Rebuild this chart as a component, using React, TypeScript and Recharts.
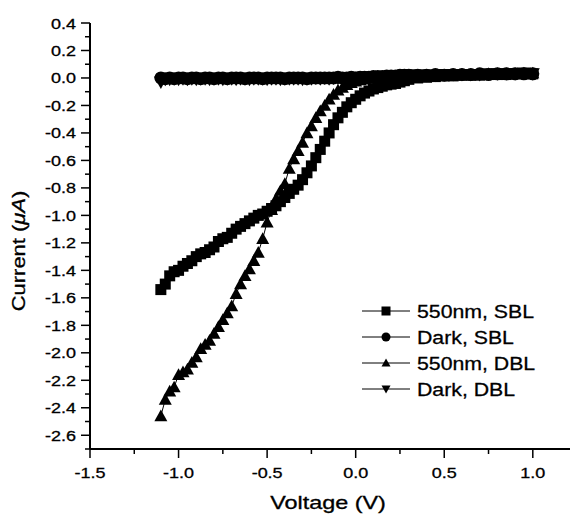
import { LineChart, Line, XAxis, YAxis } from 'recharts';

const FONT = 'Arial, "Liberation Sans", sans-serif';

// bias voltage (V)
const voltage = [
  -1.1, -1.075, -1.05, -1.025, -1.0, -0.975, -0.95, -0.925, -0.9, -0.875, -0.85, -0.825, -0.8,
  -0.775, -0.75, -0.725, -0.7, -0.675, -0.65, -0.625, -0.6, -0.575, -0.55, -0.525, -0.5,
  -0.475, -0.45, -0.425, -0.4, -0.375, -0.35, -0.325, -0.3, -0.275, -0.25, -0.225, -0.2,
  -0.175, -0.15, -0.125, -0.1, -0.075, -0.05, -0.025, 0, 0.025, 0.05, 0.075, 0.1,
  0.125, 0.15, 0.175, 0.2, 0.225, 0.25, 0.275, 0.3,
  0.35, 0.4, 0.45, 0.5, 0.55, 0.6, 0.65, 0.7, 0.75, 0.8, 0.85, 0.9, 0.95, 1.0,
];

// current (uA)
const sbl550 = [
  -1.54, -1.5, -1.44, -1.41, -1.4, -1.37, -1.35, -1.33, -1.3, -1.28, -1.27, -1.25, -1.23,
  -1.19, -1.17, -1.16, -1.13, -1.1, -1.08, -1.06, -1.04, -1.02, -1.0, -0.99, -0.97,
  -0.95, -0.93, -0.9, -0.87, -0.84, -0.81, -0.78, -0.74, -0.69, -0.64, -0.58, -0.52,
  -0.46, -0.4, -0.34, -0.29, -0.25, -0.21, -0.18, -0.155, -0.13, -0.11, -0.095, -0.08,
  -0.07, -0.06, -0.05, -0.045, -0.04, -0.03, -0.02, -0.01,
  0.0, 0.005, 0.01, 0.015, 0.015, 0.02, 0.02, 0.02, 0.025, 0.025, 0.025, 0.03, 0.03, 0.03,
];

const sblDark = [
  0.0, -0.005, 0.0, -0.005, 0.0, 0.0, -0.005, 0.0, 0.0, -0.005, 0.0, 0.0, -0.005,
  0.0, 0.0, -0.005, 0.0, 0.0, 0.0, -0.005, 0.0, 0.0, 0.0, -0.005, 0.0,
  0.0, 0.0, 0.0, -0.005, 0.0, 0.0, 0.0, 0.0, -0.005, 0.0, 0.0, 0.0,
  0.0, 0.0, 0.0, 0.005, 0.0, 0.0, 0.005, 0.0, 0.005, 0.005, 0.005, 0.01,
  0.01, 0.01, 0.015, 0.015, 0.015, 0.02, 0.02, 0.02,
  0.02, 0.02, 0.025, 0.02, 0.025, 0.025, 0.025, 0.03, 0.025, 0.03, 0.03, 0.03, 0.03, 0.03,
];

const dbl550 = [
  -2.46, -2.34, -2.28, -2.25, -2.16, -2.14, -2.12, -2.07, -2.03, -1.97, -1.94, -1.91, -1.86,
  -1.81, -1.76, -1.71, -1.66, -1.57, -1.5, -1.44, -1.39, -1.33, -1.27, -1.17, -1.05,
  -0.96, -0.88, -0.82, -0.77, -0.66, -0.59, -0.53, -0.47, -0.4, -0.35, -0.29, -0.24,
  -0.2, -0.155, -0.12, -0.09, -0.07, -0.05, -0.035, -0.025, -0.015, -0.01, -0.005, 0.0,
  0.005, 0.005, 0.01, 0.01, 0.01, 0.015, 0.015, 0.015,
  0.015, 0.02, 0.02, 0.02, 0.02, 0.025, 0.025, 0.025, 0.03, 0.03, 0.03, 0.03, 0.035, 0.035,
];

const dblDark = [
  -0.03, -0.01, -0.01, -0.005, -0.01, -0.005, -0.01, -0.005, -0.01, -0.005, -0.005, -0.01, -0.005,
  -0.005, -0.01, -0.005, -0.005, -0.01, -0.005, -0.005, -0.01, -0.005, -0.005, -0.005, -0.01,
  -0.005, -0.005, -0.01, -0.005, -0.005, -0.005, -0.005, -0.01, -0.005, -0.005, 0.0, -0.005,
  0.0, -0.005, 0.0, 0.0, 0.0, 0.0, 0.0, 0.005, 0.0, 0.005, 0.005, 0.005,
  0.01, 0.01, 0.01, 0.015, 0.015, 0.015, 0.02, 0.02,
  0.02, 0.02, 0.02, 0.025, 0.025, 0.025, 0.025, 0.025, 0.03, 0.03, 0.03, 0.03, 0.035, 0.03,
];

const xTicks = [-1.5, -1.25, -1.0, -0.75, -0.5, -0.25, 0, 0.25, 0.5, 0.75, 1.0];
const yTicks = [
  0.4, 0.3, 0.2, 0.1, 0, -0.1, -0.2, -0.3, -0.4, -0.5, -0.6, -0.7, -0.8, -0.9, -1.0, -1.1,
  -1.2, -1.3, -1.4, -1.5, -1.6, -1.7, -1.8, -1.9, -2.0, -2.1, -2.2, -2.3, -2.4, -2.5, -2.6, -2.7,
];

const legendLabels = ['550nm, SBL', 'Dark, SBL', '550nm, DBL', 'Dark, DBL'];

const data = voltage.map((v, i) => ({
  v,
  sbl550: sbl550[i],
  sblDark: sblDark[i],
  dbl550: dbl550[i],
  dblDark: dblDark[i],
}));

// markers
const Square = ({ cx, cy, s }: any) => (
  <rect x={cx - s / 2} y={cy - s / 2} width={s} height={s} fill="#000" />
);
const Dot = ({ cx, cy, s }: any) => <circle cx={cx} cy={cy} r={s / 2} fill="#000" />;
const TriUp = ({ cx, cy, s }: any) => (
  <polygon points={`${cx},${cy - s / 2} ${cx - s / 2},${cy + s * 0.4} ${cx + s / 2},${cy + s * 0.4}`} fill="#000" />
);
const TriDown = ({ cx, cy, s }: any) => (
  <polygon points={`${cx},${cy + s / 2} ${cx - s / 2},${cy - s * 0.4} ${cx + s / 2},${cy - s * 0.4}`} fill="#000" />
);
const markers = [Square, Dot, TriUp, TriDown];
const markerSize = [11, 13, 13, 14];

const isMajor = (v: number, step: number) => Math.abs(Math.round(v / step) * step - v) < 1e-6;

// the scan is a little wider than tall, so text is stretched sideways
const Txt = ({ x, y, sx = 1.2, size = 15, anchor = 'middle', rotate = 0, children }: any) => (
  <text
    transform={`translate(${x},${y}) rotate(${rotate}) scale(${sx},1)`}
    textAnchor={anchor}
    fontSize={size}
    fontFamily={FONT}
    fill="#000"
    stroke="#000"
    strokeWidth={0.3}
  >
    {children}
  </text>
);

const YTick = ({ x, y, payload }: any) => {
  const v = payload.value;
  const major = isMajor(v, 0.2);
  return (
    <g>
      <line x1={x} x2={x - (major ? 9 : 5)} y1={y} y2={y} stroke="#000" strokeWidth={1.5} />
      {major && <Txt x={x - 14} y={y + 5.5} anchor="end">{v.toFixed(1)}</Txt>}
    </g>
  );
};

const XTick = ({ x, y, payload }: any) => {
  const v = payload.value;
  const major = isMajor(v, 0.5);
  return (
    <g>
      <line x1={x} x2={x} y1={y} y2={y + (major ? 9 : 5)} stroke="#000" strokeWidth={1.5} />
      {major && <Txt x={x} y={y + 29}>{v.toFixed(1)}</Txt>}
    </g>
  );
};

const TopTick = ({ x, y, payload }: any) => {
  const major = isMajor(payload.value, 0.5);
  return <line x1={x} x2={x} y1={y} y2={y + (major ? 9 : 5)} stroke="#000" strokeWidth={1.5} />;
};

const XTitle = () => (
  <Txt x={328} y={509} size={18} sx={1.3}>
    Voltage (V)
  </Txt>
);

const YTitle = () => (
  <Txt x={25} y={251} size={18} sx={1.22} rotate={-90}>
    Current (<tspan fontStyle="italic">μA</tspan>)
  </Txt>
);

const LegendBox = () => (
  <svg width={220} height={110} style={{ position: 'absolute', left: 355, top: 297 }}>
    {legendLabels.map((name, i) => {
      const M = markers[i];
      const cy = 14 + i * 26;
      return (
        <g key={name}>
          <line x1={7} x2={55} y1={cy} y2={cy} stroke="#000" strokeWidth={1} />
          <M cx={31} cy={cy} s={9} />
          <Txt x={62} y={cy + 7} size={19} sx={1.12} anchor="start">
            {name}
          </Txt>
        </g>
      );
    })}
  </svg>
);

const seriesKeys = ['sbl550', 'sblDark', 'dbl550', 'dblDark'];

export default function App() {
  return (
    <div style={{ position: 'absolute', left: 0, top: 0, width: 570, height: 517, background: '#fff' }}>
      <LineChart width={570} height={517} data={data} margin={{ top: 23, right: 0, bottom: 0, left: 10 }}>
        <XAxis
          xAxisId="top"
          orientation="top"
          type="number"
          dataKey="v"
          domain={[-1.5, 1.21]}
          allowDataOverflow
          ticks={xTicks}
          interval={0}
          height={0}
          tickSize={0}
          tickMargin={0}
          tickLine={false}
          tick={<TopTick />}
          axisLine={{ stroke: '#000', strokeWidth: 1.5 }}
        />
        <XAxis
          type="number"
          dataKey="v"
          domain={[-1.5, 1.21]}
          allowDataOverflow
          ticks={xTicks}
          interval={0}
          height={68}
          tickSize={0}
          tickMargin={0}
          tickLine={false}
          tick={<XTick />}
          axisLine={{ stroke: '#000', strokeWidth: 2 }}
          label={<XTitle />}
        />
        <YAxis
          type="number"
          domain={[-2.7, 0.4]}
          allowDataOverflow
          ticks={yTicks}
          interval={0}
          width={80}
          tickSize={0}
          tickMargin={0}
          tickLine={false}
          tick={<YTick />}
          axisLine={{ stroke: '#000', strokeWidth: 2 }}
          label={<YTitle />}
        />
        {seriesKeys.map((k, i) => {
          const M = markers[i];
          const s = markerSize[i];
          return (
            <Line
              key={k}
              dataKey={k}
              stroke="#000"
              strokeWidth={1}
              isAnimationActive={false}
              dot={(p: any) => <M key={`${k}-${p.index}`} cx={p.cx} cy={p.cy} s={s} />}
              activeDot={false}
            />
          );
        })}
      </LineChart>
      <LegendBox />
    </div>
  );
}
